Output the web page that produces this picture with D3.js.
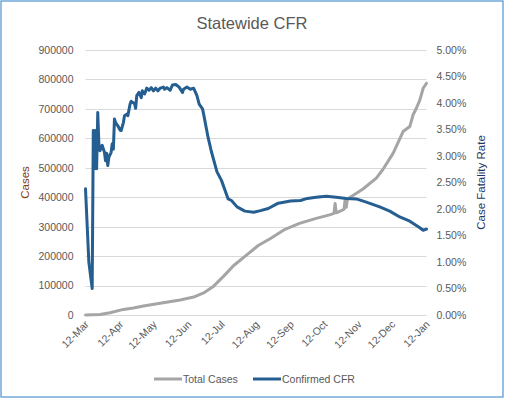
<!DOCTYPE html>
<html>
<head>
<meta charset="utf-8">
<script src="https://cdn.jsdelivr.net/npm/d3@7"></script>
<style>
  html, body { margin: 0; padding: 0; background: #fff; }
  svg { display: block; font-family: "Liberation Sans", Arial, sans-serif; }
</style>
</head>
<body>
<script>
// days counted from 12-Mar-2020
var startDate = new Date(2020, 2, 12)

var cfrDays = [0, 3, 6, 7, 8, 9, 10, 11, 12, 13,
  15, 17, 18, 19, 20, 21, 23, 24, 25, 26,
  27, 29, 31, 32, 34, 35, 37, 38, 40, 41,
  44, 45, 46, 48, 50, 51, 53, 55, 57, 59,
  61, 63, 65, 67, 70, 71, 73, 76, 78, 81,
  84, 87, 88, 91, 94, 97, 100, 102, 105, 106,
  110, 113, 118, 122, 128, 131, 136, 143, 151, 157,
  164, 173, 184, 193, 199, 207, 216, 225, 234, 243,
  252, 264, 273, 282, 291, 299, 303, 306]
var cfrValues = [2.38, 1.00, 0.50, 3.48, 2.76, 3.48, 2.76, 3.82, 3.23, 3.10,
  3.20, 3.07, 2.91, 3.05, 2.82, 2.98, 3.07, 3.23, 3.13, 3.70,
  3.63, 3.57, 3.49, 3.48, 3.63, 3.76, 3.79, 3.76, 3.98, 4.03,
  3.99, 3.90, 4.14, 4.20, 4.10, 4.23, 4.17, 4.28, 4.24, 4.29,
  4.23, 4.28, 4.23, 4.28, 4.30, 4.26, 4.29, 4.24, 4.34, 4.35,
  4.30, 4.20, 4.26, 4.30, 4.26, 4.28, 4.14, 3.98, 3.89, 3.79,
  3.35, 3.08, 2.70, 2.54, 2.19, 2.16, 2.04, 1.96, 1.94, 1.97,
  2.01, 2.11, 2.15, 2.16, 2.20, 2.22, 2.24, 2.22, 2.20, 2.19,
  2.13, 2.04, 1.96, 1.85, 1.77, 1.66, 1.60, 1.62]

var casesDays = [0, 13, 22, 34, 43, 52, 67, 85, 97, 106,
  115, 124, 133, 145, 155, 166, 178, 192, 207, 219,
  223, 224, 225, 231, 232, 233, 234, 235, 240, 249,
  261, 267, 276, 285, 291, 294, 297, 300, 303, 306]
var casesValues = [0, 2000, 7800, 19000, 23500, 30600, 40000, 51000, 61000, 75000,
  98000, 132000, 168000, 205000, 236000, 260000, 289000, 311000, 328000, 340000,
  345000, 379000, 347000, 357000, 359000, 392000, 366000, 394000, 406000, 428000,
  465000, 495000, 549000, 623000, 640000, 680000, 703000, 730000, 770000, 787000]

var xTickLabels = ['12-Mar', '12-Apr', '12-May', '12-Jun', '12-Jul', '12-Aug', '12-Sep', '12-Oct', '12-Nov', '12-Dec', '12-Jan']
var leftTicks = [0, 100000, 200000, 300000, 400000, 500000, 600000, 700000, 800000, 900000]
var rightTicks = [0, 0.005, 0.01, 0.015, 0.02, 0.025, 0.03, 0.035, 0.04, 0.045, 0.05]

var W = 505
  , H = 399
  , plotL = 85.5
  , plotR = 426.5
  , plotT = 50
  , plotB = 315
  , grey = '#595959'
  , blue = '#255e91'
  , lightGrey = '#a5a5a5'

var svg = d3.select('body').append('svg')
  .attr('width', W)
  .attr('height', H)

svg.append('rect')
  .attr('x', 1).attr('y', 1)
  .attr('width', W - 3).attr('height', H - 3)
  .attr('fill', '#fff')
  .attr('stroke', '#5b9bd5')
  .attr('stroke-width', 1.3)

var x = d3.scaleTime()
  .domain([startDate, d3.timeMonth.offset(startDate, xTickLabels.length - 1)])
  .range([plotL, plotR])
var yL = d3.scaleLinear().domain([0, 900000]).range([plotB, plotT])
var yR = d3.scaleLinear().domain([0, 0.05]).range([plotB, plotT])

function dayToDate(d) { return d3.timeDay.offset(startDate, d) }

// gridlines
svg.append('g').selectAll('line').data(leftTicks).enter()
  .append('line')
  .attr('x1', plotL).attr('x2', plotR)
  .attr('y1', function(d) { return Math.round(yL(d)) + 0.5 })
  .attr('y2', function(d) { return Math.round(yL(d)) + 0.5 })
  .attr('stroke', '#d9d9d9')
  .attr('stroke-width', 1)

// left axis
var axL = svg.append('g')
  .attr('transform', 'translate(' + (plotL - 12) + ',0)')
  .call(d3.axisLeft(yL).tickValues(leftTicks).tickSize(0).tickPadding(0).tickFormat(d3.format('d')))
axL.select('.domain').remove()
axL.selectAll('text').attr('fill', grey).style('font-size', '10.5px').style('font-family', null)

// right axis
var axR = svg.append('g')
  .attr('transform', 'translate(' + (plotR + 10) + ',0)')
  .call(d3.axisRight(yR).tickValues(rightTicks).tickSize(0).tickPadding(0).tickFormat(d3.format('.2%')))
axR.select('.domain').remove()
axR.selectAll('text').attr('fill', grey).style('font-size', '10.5px').style('font-family', null)

// x labels
var xTicks = xTickLabels.map(function(d, i) { return d3.timeMonth.offset(startDate, i) })
svg.append('g').selectAll('text').data(xTicks).enter()
  .append('text')
  .attr('transform', function(d) { return 'translate(' + (x(d) + 4) + ',' + (plotB + 10) + ') rotate(-45)' })
  .attr('text-anchor', 'end')
  .attr('fill', grey)
  .style('font-size', '10.5px')
  .text(function(d, i) { return xTickLabels[i] })

// series
var casesLine = d3.line()
  .x(function(d, i) { return x(dayToDate(casesDays[i])) })
  .y(function(d) { return yL(d) })
var cfrLine = d3.line()
  .x(function(d, i) { return x(dayToDate(cfrDays[i])) })
  .y(function(d) { return yR(d / 100) })

svg.append('path').datum(casesValues)
  .attr('d', casesLine)
  .attr('fill', 'none')
  .attr('stroke', lightGrey)
  .attr('stroke-width', 3)
  .attr('stroke-linejoin', 'round')
  .attr('stroke-linecap', 'round')

svg.append('path').datum(cfrValues)
  .attr('d', cfrLine)
  .attr('fill', 'none')
  .attr('stroke', blue)
  .attr('stroke-width', 3)
  .attr('stroke-linejoin', 'round')
  .attr('stroke-linecap', 'round')

// titles
svg.append('text')
  .attr('x', 252).attr('y', 29)
  .attr('text-anchor', 'middle')
  .attr('fill', grey)
  .style('font-size', '16.5px')
  .text('Statewide CFR')

svg.append('text')
  .attr('transform', 'translate(29,' + ((plotT + plotB) / 2) + ') rotate(-90)')
  .attr('text-anchor', 'middle')
  .attr('fill', '#843c0c')
  .style('font-size', '11.5px')
  .text('Cases')

svg.append('text')
  .attr('transform', 'translate(485,' + ((plotT + plotB) / 2) + ') rotate(-90)')
  .attr('text-anchor', 'middle')
  .attr('fill', '#1f3864')
  .style('font-size', '11.5px')
  .text('Case Fatality Rate')

// legend
var legend = [['Total Cases', lightGrey, 154], ['Confirmed CFR', blue, 253]]
var lg = svg.append('g').selectAll('g').data(legend).enter().append('g')
lg.append('line')
  .attr('x1', function(d) { return d[2] }).attr('x2', function(d) { return d[2] + 28 })
  .attr('y1', 379).attr('y2', 379)
  .attr('stroke', function(d) { return d[1] })
  .attr('stroke-width', 3)
lg.append('text')
  .attr('x', function(d) { return d[2] + 29 }).attr('y', 383)
  .attr('fill', grey)
  .style('font-size', '10.5px')
  .text(function(d) { return d[0] })
</script>
</body>
</html>
